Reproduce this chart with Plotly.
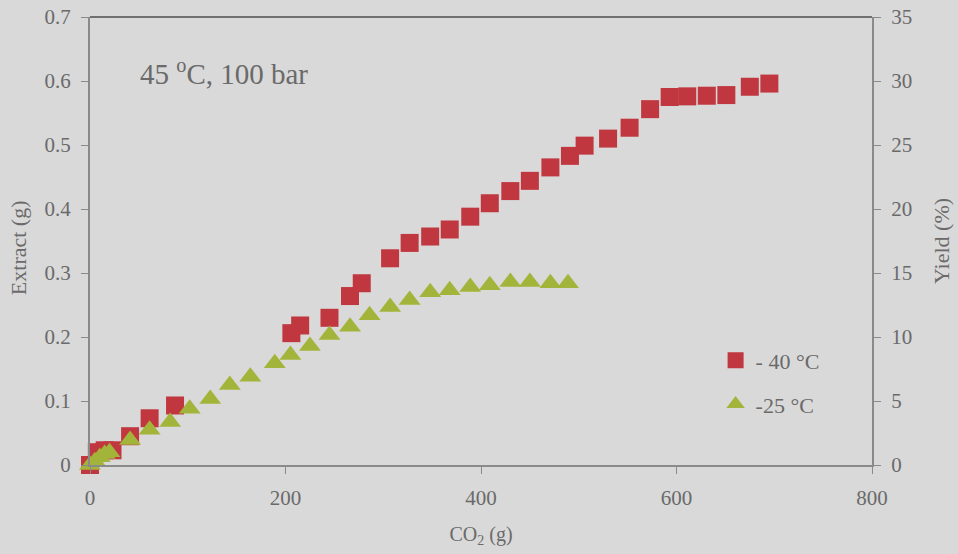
import plotly.graph_objects as go

# -40 °C series (red squares)
co2_40 = [0, 7, 15, 23, 41, 61, 87, 206, 215, 245, 266, 278, 307, 327, 348, 368, 389, 409,
          430, 450, 471, 491, 506, 530, 552, 573, 593, 611, 631, 651, 675, 695]
ext_40 = [0.0, 0.02, 0.023, 0.023, 0.045, 0.073, 0.093, 0.206, 0.218, 0.23, 0.264, 0.284,
          0.323, 0.347, 0.357, 0.368, 0.388, 0.409, 0.428, 0.444, 0.465, 0.483, 0.499, 0.51,
          0.527, 0.556, 0.575, 0.576, 0.577, 0.578, 0.591, 0.596]

# -25 °C series (green triangles)
co2_25 = [0, 5, 10, 15, 20, 41, 61, 82, 102, 123, 143, 164, 189, 205, 225, 245, 266, 286,
          307, 327, 348, 368, 389, 409, 430, 450, 471, 489]
ext_25 = [0.0, 0.006, 0.012, 0.017, 0.02, 0.039, 0.055, 0.067, 0.088, 0.103, 0.125, 0.138,
          0.159, 0.172, 0.186, 0.203, 0.216, 0.234, 0.247, 0.258, 0.27, 0.273, 0.278, 0.281,
          0.286, 0.286, 0.284, 0.284]

x_ticks = [0, 200, 400, 600, 800]
y_ticks = [0, 0.1, 0.2, 0.3, 0.4, 0.5, 0.6, 0.7]
y_tick_labels = ["0", "0.1", "0.2", "0.3", "0.4", "0.5", "0.6", "0.7"]
y2_ticks = [0, 5, 10, 15, 20, 25, 30, 35]

RED = "#c1373f"
GREEN = "#a3b43a"
TEXT = "#6a6a6a"
AXIS = "#8a8a8a"
BG = "#d9d9d9"
FONT = "Liberation Serif"

fig = go.Figure()
fig.add_trace(go.Scatter(
    x=co2_40, y=ext_40, mode="markers", name="- 40 °C", cliponaxis=False,
    marker=dict(symbol="square", size=18, color=RED), legendgroup="a"))
fig.add_trace(go.Scatter(
    x=co2_25, y=ext_25, mode="markers", name="-25 °C", cliponaxis=False,
    marker=dict(symbol="triangle-up", size=19, color=GREEN), legendgroup="b"))
fig.add_trace(go.Scatter(x=[None], y=[None], yaxis="y2", showlegend=False, hoverinfo="skip"))

fig.update_layout(
    width=958, height=554,
    margin=dict(l=90, r=86, t=17, b=89, autoexpand=False),
    paper_bgcolor=BG, plot_bgcolor=BG,
    font=dict(family=FONT, color=TEXT, size=21),
    xaxis=dict(range=[0, 800], tickvals=x_ticks, showgrid=False, zeroline=False,
               showline=True, linecolor=AXIS, linewidth=2, mirror=False, automargin=False,
               ticks="outside", ticklen=7, tickcolor=AXIS, ticklabelstandoff=6,
               tickfont=dict(size=21),
               title=dict(text="CO<sub>2</sub> (g)", font=dict(size=20), standoff=18)),
    yaxis=dict(range=[0, 0.7], tickvals=y_ticks, ticktext=y_tick_labels, showgrid=False,
               zeroline=False, showline=True, linecolor=AXIS, linewidth=2, automargin=False,
               ticks="outside", ticklen=7, tickcolor=AXIS, ticklabelstandoff=6,
               tickfont=dict(size=21)),
    yaxis2=dict(range=[0, 35], tickvals=y2_ticks, overlaying="y", side="right",
                showgrid=False, zeroline=False, showline=True, linecolor=AXIS, linewidth=2,
                automargin=False,
                ticks="outside", ticklen=7, tickcolor=AXIS, ticklabelstandoff=6,
                tickfont=dict(size=21),
                title=dict(text="Yield (%)", font=dict(size=22), standoff=22)),
    legend=dict(x=0.80, y=0.28, xanchor="left", yanchor="top", bgcolor="rgba(0,0,0,0)",
                font=dict(size=22, color=TEXT), traceorder="grouped", tracegroupgap=12),
    showlegend=True,
    shapes=[dict(type="line", xref="paper", yref="paper", x0=0, x1=1, y0=1, y1=1,
                 line=dict(color="#707070", width=2))],
    annotations=[
        dict(text="45 <sup>o</sup>C, 100 bar", x=0.062, y=0.877, xref="paper",
             yref="paper", xanchor="left", yanchor="middle", showarrow=False,
             font=dict(size=29, color=TEXT)),
        dict(text="Extract (g)", x=0, y=0.484, xref="paper", yref="paper",
             xanchor="center", yanchor="middle", xshift=-72, textangle=-90,
             showarrow=False, font=dict(size=22, color=TEXT)),
    ],
)

fig.write_html("out.html")
